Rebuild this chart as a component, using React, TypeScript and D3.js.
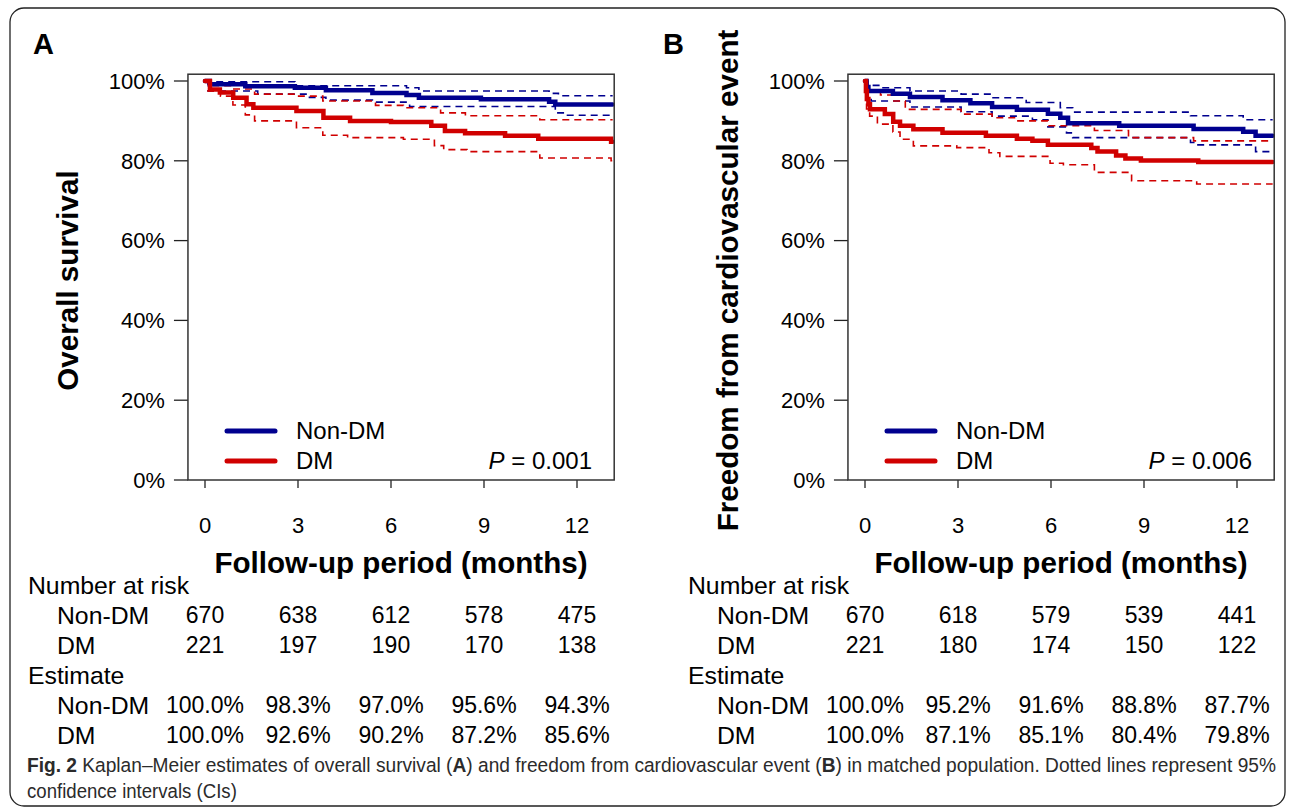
import React, { useEffect, useRef } from 'react';
import * as d3 from 'd3';

type Pt = [number, number];

const months = [0, 3, 6, 9, 12];
const yTicks = [0, 20, 40, 60, 80, 100];
const groups = ['Non-DM', 'DM'];

// A: overall survival (months, %)
const osNonDm: Pt[] = [[0, 100], [0.15, 99.2], [1.3, 98.7], [2.9, 98.3], [3.9, 97.7], [5.4, 97.0], [6.5, 96.5], [6.9, 95.8], [8.9, 95.4], [11.1, 94.8], [11.3, 94.1], [13.15, 94.1]];
const osNonDmUpper: Pt[] = [[0, 100], [0.2, 99.8], [2.9, 98.8], [6.5, 98.3], [6.9, 97.5], [11.1, 96.9], [11.4, 96.3], [13.15, 96.3]];
const osNonDmLower: Pt[] = [[0, 100], [0.1, 97.5], [1.7, 96.7], [3.3, 95.9], [3.9, 95.2], [5.4, 94.7], [6.6, 93.6], [11.3, 92.0], [11.6, 91.4], [13.15, 91.4]];
const osDm: Pt[] = [[0, 100], [0.16, 97.9], [0.48, 97.1], [0.91, 95.8], [1.34, 94.2], [1.56, 93.3], [2.95, 92.5], [3.82, 90.8], [4.68, 90.0], [6.0, 89.7], [7.3, 88.8], [7.74, 87.5], [8.39, 86.9], [9.68, 86.3], [10.75, 85.5], [13.1, 84.8], [13.15, 84.8]];
const osDmUpper: Pt[] = [[0, 100], [0.2, 98.8], [0.9, 98.0], [1.6, 96.7], [2.9, 96.2], [3.8, 95.0], [5.5, 93.9], [6.4, 93.3], [7.6, 92.0], [8.4, 91.3], [10.8, 90.3], [13.15, 90.3]];
const osDmLower: Pt[] = [[0, 100], [0.1, 97.5], [0.5, 96.2], [0.9, 94.0], [1.3, 91.5], [1.6, 90.0], [2.95, 88.3], [3.8, 86.4], [4.6, 85.8], [6.4, 85.4], [7.4, 83.8], [7.7, 82.8], [8.45, 82.3], [10.8, 80.7], [13.1, 80.0], [13.15, 80.0]];

// B: freedom from cardiovascular event
const cvNonDm: Pt[] = [[0, 100], [0.05, 98.5], [0.11, 97.5], [0.9, 96.8], [1.45, 96.0], [2.5, 95.2], [3.4, 94.4], [4.1, 93.5], [4.9, 92.8], [5.9, 91.8], [6.3, 90.8], [6.55, 89.4], [8.2, 88.8], [10.6, 88.0], [12.2, 87.3], [12.6, 86.3], [13.15, 86.3]];
const cvNonDmUpper: Pt[] = [[0, 100], [0.05, 98.9], [0.5, 98.3], [1.45, 97.5], [3.1, 96.7], [4.1, 95.8], [5.2, 94.6], [6.3, 93.3], [6.7, 92.2], [10.5, 91.3], [12.2, 90.3], [13.15, 90.3]];
const cvNonDmLower: Pt[] = [[0, 100], [0.05, 96.0], [0.2, 95.0], [1.45, 93.5], [3.1, 92.3], [4.1, 91.2], [5.4, 90.3], [5.9, 88.5], [6.5, 87.0], [6.7, 85.8], [10.5, 84.6], [10.7, 84.0], [12.6, 82.3], [13.15, 82.3]];
const cvDm: Pt[] = [[0, 100], [0.03, 97.5], [0.06, 95.5], [0.11, 94.2], [0.16, 92.9], [0.64, 91.7], [0.91, 89.8], [1.13, 88.8], [1.56, 87.9], [2.5, 87.0], [3.9, 86.3], [4.9, 85.5], [5.4, 85.0], [5.9, 84.0], [7.3, 83.2], [7.5, 82.3], [8.1, 81.3], [8.4, 80.6], [8.9, 80.1], [10.75, 79.7], [13.15, 79.7]];
const cvDmUpper: Pt[] = [[0, 100], [0.1, 97.5], [0.5, 96.5], [0.9, 95.0], [1.3, 92.9], [3.1, 91.7], [4.1, 90.8], [4.9, 90.0], [5.9, 88.8], [7.4, 87.6], [8.5, 85.8], [10.6, 85.0], [13.15, 85.0]];
const cvDmLower: Pt[] = [[0, 100], [0.05, 93.0], [0.15, 91.2], [0.4, 89.2], [0.9, 87.2], [1.13, 85.4], [1.56, 83.75], [2.96, 83.3], [4.0, 82.0], [4.35, 81.1], [5.97, 79.4], [6.4, 79.0], [7.4, 77.1], [8.6, 75.0], [10.7, 74.2], [13.15, 74.2]];

// number at risk / estimates at 0, 3, 6, 9, 12 months
const osRiskNonDm = ['670', '638', '612', '578', '475'];
const osRiskDm = ['221', '197', '190', '170', '138'];
const osEstNonDm = ['100.0%', '98.3%', '97.0%', '95.6%', '94.3%'];
const osEstDm = ['100.0%', '92.6%', '90.2%', '87.2%', '85.6%'];
const cvRiskNonDm = ['670', '618', '579', '539', '441'];
const cvRiskDm = ['221', '180', '174', '150', '122'];
const cvEstNonDm = ['100.0%', '95.2%', '91.6%', '88.8%', '87.7%'];
const cvEstDm = ['100.0%', '87.1%', '85.1%', '80.4%', '79.8%'];

const BLUE = '#00008f';
const RED = '#d00000';
const FONT = "'Liberation Sans', Arial, Helvetica, sans-serif";

function drawPanel(svg: any, p: any) {
  const x = d3.scaleLinear().domain([0, 12]).range([p.x0, p.x0 + 372]);
  const y = d3.scaleLinear().domain([0, 100]).range([480, 81]);
  const left = x(-0.55);
  const right = x(13.2);
  const g = svg.append('g').style('font-family', FONT);

  g.append('text').attr('x', p.labelX).attr('y', 54)
    .text(p.label).style('font-size', '29px').style('font-weight', 700);

  // y axis
  g.selectAll('.yt').data(yTicks).enter().append('line')
    .attr('x1', left - 14).attr('x2', left)
    .attr('y1', (d: number) => y(d)).attr('y2', (d: number) => y(d))
    .attr('stroke', '#222').attr('stroke-width', 1.3);
  g.selectAll('.yl').data(yTicks).enter().append('text')
    .attr('x', left - 23).attr('y', (d: number) => y(d))
    .attr('dy', '0.35em').attr('text-anchor', 'end')
    .style('font-size', '22px').text((d: number) => d + '%');

  // x axis
  g.selectAll('.xt').data(months).enter().append('line')
    .attr('x1', (d: number) => x(d)).attr('x2', (d: number) => x(d))
    .attr('y1', y(0)).attr('y2', y(0) + 8)
    .attr('stroke', '#222').attr('stroke-width', 1.3);
  g.selectAll('.xl').data(months).enter().append('text')
    .attr('x', (d: number) => x(d)).attr('y', 525).attr('dy', '0.35em')
    .attr('text-anchor', 'middle').style('font-size', '22px').text((d: number) => d);

  g.append('text').attr('x', (x(0) + x(12)) / 2 + 10).attr('y', 563).attr('dy', '0.35em')
    .attr('text-anchor', 'middle').style('font-size', '29.6px').style('font-weight', 700)
    .text('Follow-up period (months)');
  g.append('text')
    .attr('transform', `translate(${left - 120},${y(50)}) rotate(-90)`)
    .attr('dy', '0.35em').attr('text-anchor', 'middle')
    .style('font-size', '29.6px').style('font-weight', 700).text(p.yTitle);

  // curves
  const line = d3.line<Pt>().x((d) => x(d[0])).y((d) => y(d[1])).curve(d3.curveStepAfter);
  const dashed = [[p.nonUp, BLUE], [p.nonLo, BLUE], [p.dmUp, RED], [p.dmLo, RED]];
  dashed.forEach(([data, c]: any) => {
    g.append('path').attr('d', line(data)).attr('fill', 'none')
      .attr('stroke', c).attr('stroke-width', 1.6).attr('stroke-dasharray', '7,5');
  });
  [[p.non, BLUE], [p.dm, RED]].forEach(([data, c]: any) => {
    g.append('path').attr('d', line(data)).attr('fill', 'none')
      .attr('stroke', c).attr('stroke-width', 4.5).attr('stroke-linecap', 'round');
  });

  // box
  g.append('rect').attr('x', left).attr('y', y(101.7))
    .attr('width', right - left).attr('height', y(0) - y(101.7))
    .attr('fill', 'none').attr('stroke', '#333').attr('stroke-width', 1.5);

  // legend
  groups.forEach((name, i) => {
    const ly = 431 + i * 30;
    g.append('line').attr('x1', p.x0 + 22).attr('x2', p.x0 + 70)
      .attr('y1', ly).attr('y2', ly).attr('stroke', i ? RED : BLUE)
      .attr('stroke-width', 5).attr('stroke-linecap', 'round');
    g.append('text').attr('x', p.x0 + 91).attr('y', ly).attr('dy', '0.35em')
      .style('font-size', '24px').text(name);
  });
  const pt = g.append('text').attr('x', p.x0 + 387).attr('y', 461).attr('dy', '0.35em')
    .attr('text-anchor', 'end').style('font-size', '24px');
  pt.append('tspan').style('font-style', 'italic').text('P');
  pt.append('tspan').text(' = ' + p.pval);

  // table
  const tx = left - 160;
  const rows: any[] = [
    ['Number at risk', null, 585],
    ['Non-DM', p.riskNon, 615],
    ['DM', p.riskDm, 645],
    ['Estimate', null, 675],
    ['Non-DM', p.estNon, 705],
    ['DM', p.estDm, 735],
  ];
  rows.forEach(([lab, vals, ry]) => {
    g.append('text').attr('x', vals ? tx + 29 : tx).attr('y', ry).attr('dy', '0.35em')
      .style('font-size', '24.8px').text(lab);
    if (vals) {
      g.selectAll(null).data(vals).enter().append('text')
        .attr('x', (d: string, i: number) => x(months[i])).attr('y', ry).attr('dy', '0.35em')
        .attr('text-anchor', 'middle').style('font-size', '23px').text((d: string) => d);
    }
  });
}

// squeeze a text line horizontally to a given width, keeping glyph height
function fitWidth(sel: any, x0: number, width: number) {
  const node = sel.node() as SVGTextElement;
  const len = node.getComputedTextLength();
  const k = len > 0 ? width / len : 1;
  sel.attr('transform', `translate(${x0},0) scale(${k},1)`);
}

export default function App() {
  const ref = useRef<SVGSVGElement>(null);
  useEffect(() => {
    const svg = d3.select(ref.current);
    svg.selectAll('*').remove();
    svg.append('rect').attr('x', 10).attr('y', 8).attr('width', 1275).attr('height', 798)
      .attr('rx', 14).attr('fill', 'white').attr('stroke', '#222').attr('stroke-width', 1.3);

    drawPanel(svg, {
      x0: 205, label: 'A', labelX: 33, yTitle: 'Overall survival', pval: '0.001',
      non: osNonDm, nonUp: osNonDmUpper, nonLo: osNonDmLower,
      dm: osDm, dmUp: osDmUpper, dmLo: osDmLower,
      riskNon: osRiskNonDm, riskDm: osRiskDm, estNon: osEstNonDm, estDm: osEstDm,
    });
    drawPanel(svg, {
      x0: 865, label: 'B', labelX: 663, yTitle: 'Freedom from cardiovascular event', pval: '0.006',
      non: cvNonDm, nonUp: cvNonDmUpper, nonLo: cvNonDmLower,
      dm: cvDm, dmUp: cvDmUpper, dmLo: cvDmLower,
      riskNon: cvRiskNonDm, riskDm: cvRiskDm, estNon: cvEstNonDm, estDm: cvEstDm,
    });

    // caption
    const cap = svg.append('g')
      .style('font-family', FONT)
      .style('font-size', '19.5px').attr('fill', '#2b2b2b');
    const l1 = cap.append('text').attr('x', 0).attr('y', 772);
    l1.append('tspan').style('font-weight', 700).text('Fig. 2');
    l1.append('tspan').text('  Kaplan\u2013Meier estimates of overall survival (');
    l1.append('tspan').style('font-weight', 700).text('A');
    l1.append('tspan').text(') and freedom from cardiovascular event (');
    l1.append('tspan').style('font-weight', 700).text('B');
    l1.append('tspan').text(') in matched population. Dotted lines represent 95%');
    fitWidth(l1, 27, 1250);
    const l2 = cap.append('text').attr('x', 0).attr('y', 798)
      .text('confidence intervals (CIs)');
    fitWidth(l2, 27, 210);
  }, []);

  return (
    <svg ref={ref} width={1295} height={812} style={{ position: 'absolute', left: 0, top: 0, background: 'white' }} />
  );
}
